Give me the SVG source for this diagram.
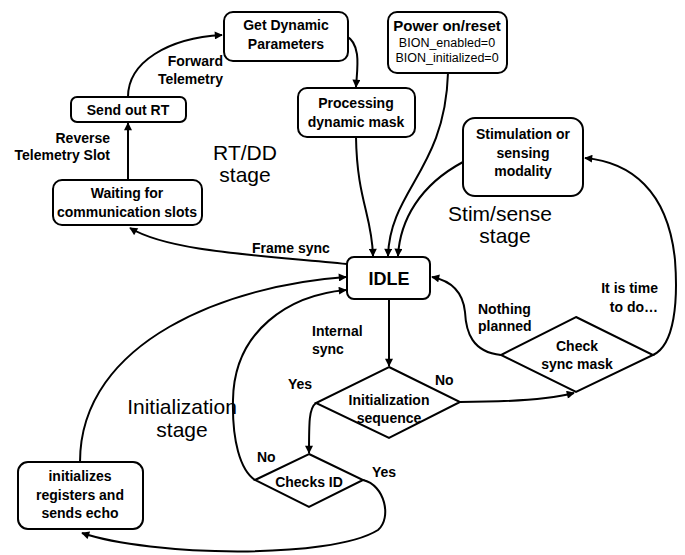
<svg xmlns="http://www.w3.org/2000/svg" width="685" height="555" viewBox="0 0 685 555">
<defs>
<marker id="ah" viewBox="0 0 10 10" refX="9" refY="5" markerWidth="9" markerHeight="8" markerUnits="userSpaceOnUse" orient="auto">
<path d="M0,0 L10,5 L0,10 z" fill="#000"/>
</marker>
<style>
.box{fill:#fff;stroke:#000;stroke-width:2}
.t{font-family:"Liberation Sans",Arial,sans-serif;font-size:14px;font-weight:bold;fill:#000;text-anchor:middle}
.l{font-family:"Liberation Sans",Arial,sans-serif;font-size:14px;font-weight:bold;fill:#000}
.s{font-family:"Liberation Sans",Arial,sans-serif;font-size:21px;fill:#000;text-anchor:middle}
.r{font-family:"Liberation Sans",Arial,sans-serif;font-size:12.5px;fill:#000;text-anchor:middle}
.c{fill:none;stroke:#000;stroke-width:2;marker-end:url(#ah)}
.cn{fill:none;stroke:#000;stroke-width:2}
</style>
</defs>
<rect width="685" height="555" fill="#fff"/>
<g id="connectors">
<path class="c" d="M128,97 C128,62 168,38 222,35"/>
<path class="c" d="M346,36 C362,44 357,70 356,87"/>
<path class="c" d="M356,137 C357,200 372,215 373,256"/>
<path class="c" d="M448,73 C445,170 390,190 388,256"/>
<path class="c" d="M463,162 C420,185 400,220 398,256"/>
<path class="c" d="M653,355 C675,345 678,300 675,260 C668,190 630,162 585,158"/>
<path class="c" d="M501,355 C472,352 466,332 465,312 C463,292 452,281 432,277"/>
<path class="c" d="M389,299 L389,366"/>
<path class="c" d="M460,402 C510,402 550,399 574,393"/>
<path class="c" d="M316,403 C309,408 309,422 309,453"/>
<path class="c" d="M255,480 C240,470 232,440 233,400 C234,330 290,295 346,290"/>
<path class="c" d="M80,462 C80,340 230,285 346,277"/>
<path class="c" d="M363,480 C385,485 392,518 378,530 C330,560 150,556 82,533"/>
<path class="c" d="M347,264 C260,255 170,252 130,228"/>
<path class="c" d="M128,180 L128,123"/>
</g>
<g id="get-dynamic">
<rect class="box" x="224" y="12" width="124" height="49" rx="9"/>
<text class="t" x="286" y="30">Get Dynamic</text>
<text class="t" x="286" y="49">Parameters</text>
</g>
<g id="processing">
<rect class="box" x="298" y="88" width="117" height="49" rx="9"/>
<text class="t" x="356" y="108">Processing</text>
<text class="t" x="356" y="127">dynamic mask</text>
</g>
<g id="power-on">
<rect class="box" x="388" y="12" width="119" height="61" rx="9"/>
<text class="t" x="447" y="31" style="font-size:15px">Power on/reset</text>
<text class="r" x="447" y="47">BION_enabled=0</text>
<text class="r" x="447" y="62">BION_initialized=0</text>
</g>
<g id="send-out-rt">
<rect class="box" x="71" y="97" width="115" height="25" rx="6"/>
<text class="t" x="128" y="115">Send out RT</text>
</g>
<g id="waiting">
<rect class="box" x="53" y="180" width="149" height="45" rx="9"/>
<text class="t" x="127" y="198">Waiting for</text>
<text class="t" x="127" y="217">communication slots</text>
</g>
<g id="stimulation">
<rect class="box" x="463" y="118" width="120" height="78" rx="12"/>
<text class="t" x="523" y="139">Stimulation or</text>
<text class="t" x="523" y="158">sensing</text>
<text class="t" x="523" y="176">modality</text>
</g>
<g id="idle">
<rect class="box" x="347" y="257" width="83" height="42" rx="7"/>
<text class="t" x="389" y="285" style="font-size:18px">IDLE</text>
</g>
<g id="init-seq">
<polygon class="box" points="389,367 460,402 389,438 316,403"/>
<text class="t" x="389" y="405">Initialization</text>
<text class="t" x="389" y="423">sequence</text>
</g>
<g id="check-sync">
<polygon class="box" points="576,317 653,355 576,392 501,355"/>
<text class="t" x="577" y="351">Check</text>
<text class="t" x="577" y="369">sync mask</text>
</g>
<g id="checks-id">
<polygon class="box" points="309,454 363,480 309,507 255,480"/>
<text class="t" x="309" y="487">Checks ID</text>
</g>
<g id="initializes">
<rect class="box" x="18" y="462" width="125" height="67" rx="10"/>
<text class="t" x="80" y="481">initializes</text>
<text class="t" x="80" y="500">registers and</text>
<text class="t" x="80" y="518">sends echo</text>
</g>
<g id="labels">
<text class="l" x="223" y="66" text-anchor="end">Forward</text>
<text class="l" x="223" y="84" text-anchor="end">Telemetry</text>
<text class="l" x="110" y="143" text-anchor="end">Reverse</text>
<text class="l" x="110" y="160" text-anchor="end">Telemetry Slot</text>
<text class="s" x="245" y="160">RT/DD</text>
<text class="s" x="245" y="182">stage</text>
<text class="s" x="500" y="221">Stim/sense</text>
<text class="s" x="505" y="243">stage</text>
<text class="s" x="182" y="414">Initialization</text>
<text class="s" x="182" y="437">stage</text>
<text class="l" x="252" y="253">Frame sync</text>
<text class="l" x="312" y="336">Internal</text>
<text class="l" x="312" y="354">sync</text>
<text class="l" x="288" y="389">Yes</text>
<text class="l" x="435" y="385">No</text>
<text class="l" x="257" y="462">No</text>
<text class="l" x="372" y="477">Yes</text>
<text class="l" x="478" y="314">Nothing</text>
<text class="l" x="478" y="331">planned</text>
<text class="l" x="658" y="293" text-anchor="end">It is time</text>
<text class="l" x="658" y="312" text-anchor="end">to do…</text>
</g>
</svg>
